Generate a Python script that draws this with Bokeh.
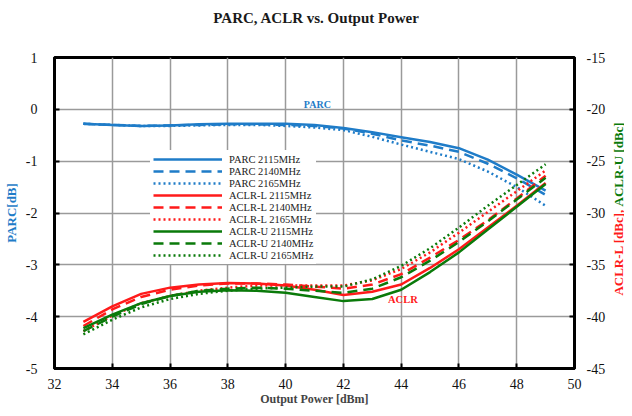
import math
from bokeh.plotting import figure
from bokeh.layouts import row, column
from bokeh.models import (Range1d, LinearAxis, SingleIntervalTicker, Label, Legend, LegendItem,
                          PrintfTickFormatter)
from bokeh.core.properties import value
from bokeh.embed import file_html
from bokeh.resources import INLINE

# ---- data ----
power_dbm = [33, 34, 35, 36, 37, 38, 39, 40, 41, 42, 43, 44, 45, 46, 47, 48, 49]

parc_2115 = [-0.28, -0.30, -0.32, -0.31, -0.29, -0.28, -0.28, -0.28, -0.30, -0.36, -0.44, -0.54, -0.63, -0.75, -0.97, -1.26, -1.57]
parc_2140 = [-0.28, -0.30, -0.32, -0.31, -0.30, -0.29, -0.29, -0.30, -0.32, -0.37, -0.47, -0.60, -0.70, -0.82, -1.05, -1.33, -1.65]
parc_2165 = [-0.28, -0.30, -0.32, -0.32, -0.31, -0.30, -0.30, -0.32, -0.35, -0.40, -0.53, -0.68, -0.82, -0.96, -1.20, -1.50, -1.86]

aclr_l_2115 = [-40.5, -39.0, -37.8, -37.2, -36.9, -36.75, -36.8, -37.0, -37.4, -37.9, -37.6, -36.9, -35.3, -33.5, -31.4, -29.3, -27.1]
aclr_l_2140 = [-40.9, -39.3, -38.1, -37.4, -37.0, -36.8, -36.8, -36.9, -37.1, -37.3, -36.9, -35.9, -34.3, -32.6, -30.7, -28.6, -26.4]
aclr_l_2165 = [-41.4, -39.9, -38.7, -38.0, -37.5, -37.2, -37.0, -37.0, -37.0, -37.0, -36.5, -35.4, -33.8, -31.9, -29.9, -27.9, -25.9]
aclr_u_2115 = [-41.1, -39.8, -38.7, -38.0, -37.6, -37.45, -37.5, -37.7, -38.1, -38.5, -38.3, -37.4, -35.7, -33.8, -31.6, -29.4, -27.2]
aclr_u_2140 = [-41.4, -40.0, -38.8, -38.0, -37.5, -37.3, -37.2, -37.3, -37.5, -37.7, -37.3, -36.2, -34.6, -32.8, -30.8, -28.7, -26.6]
aclr_u_2165 = [-41.7, -40.3, -39.1, -38.3, -37.8, -37.5, -37.3, -37.2, -37.1, -37.1, -36.4, -35.1, -33.4, -31.4, -29.3, -27.3, -25.3]

title_text = ["PARC, ACLR vs. Output Power"]
x_label = "Output Power [dBm]"
left_label = "PARC[dB]"
right_label_l = ["ACLR-L [dBc],"]
right_label_u = ["ACLR-U [dBc]"]

BLUE = "#1f7cc8"
RED = "#ff1a1a"
GREEN = "#0a7a0a"
FONT = "Liberation Serif"

# ---- title strip ----
W0, H0 = 624, 28
p0 = figure(width=W0, height=H0, output_backend="svg", toolbar_location=None,
            x_range=Range1d(0, W0), y_range=Range1d(0, H0),
            x_axis_type=None, y_axis_type=None,
            min_border_left=0, min_border_right=0, min_border_top=0, min_border_bottom=0)
p0.outline_line_color = None
p0.grid.visible = False
p0.text(x=[316], y=[H0 - 17.5], text=title_text, text_align="center", text_baseline="middle",
        text_color="#1a1a1a", text_font=value(FONT), text_font_style="bold", text_font_size="15px")

# ---- main chart ----
W, H = 608, 380
p = figure(width=W, height=H, output_backend="svg", toolbar_location=None,
           x_range=Range1d(32, 50), y_range=Range1d(-5, 1),
           min_border_left=54, min_border_right=0, min_border_top=29, min_border_bottom=5)
p.extra_y_ranges = {"aclr": Range1d(-45, -15)}
p.background_fill_color = "white"
p.border_fill_color = "white"
p.outline_line_color = "black"
p.outline_line_width = 3


def style_axis(ax, interval, standoff):
    ax.ticker = SingleIntervalTicker(interval=interval)
    ax.axis_line_color = "black"
    ax.axis_line_width = 3
    ax.major_tick_in = 5
    ax.major_tick_out = 0
    ax.major_tick_line_color = "black"
    ax.major_tick_line_width = 2
    ax.minor_tick_line_color = None
    ax.major_label_text_font = FONT
    ax.major_label_text_font_size = "14px"
    ax.major_label_text_color = "#111111"
    ax.major_label_standoff = standoff
    ax.axis_label_text_font = FONT
    ax.axis_label_text_font_size = "12px"
    ax.axis_label_text_font_style = "bold"


style_axis(p.xaxis[0], 2, 6)
style_axis(p.yaxis[0], 1, 13)
p.yaxis[0].formatter = PrintfTickFormatter(format="%d")
p.xaxis[0].axis_label = x_label
p.xaxis[0].axis_label_standoff = 0
p.yaxis[0].axis_label = left_label
p.yaxis[0].axis_label_text_color = BLUE
p.yaxis[0].axis_label_text_font_size = "13px"
p.yaxis[0].axis_label_standoff = 4

rax = LinearAxis(y_range_name="aclr", formatter=PrintfTickFormatter(format="%d"))
style_axis(rax, 5, 8)
p.add_layout(rax, "right")

p.xgrid.ticker = SingleIntervalTicker(interval=2)
p.ygrid.ticker = SingleIntervalTicker(interval=1)
p.xgrid.grid_line_color = "#9a9a9a"
p.ygrid.grid_line_color = "#9a9a9a"
p.xgrid.grid_line_width = 1.5
p.ygrid.grid_line_width = 1.5

LW = 2.5
DASH = "10 6"
DOT = "2 3"

series = [
    ("PARC 2115MHz", parc_2115, BLUE, "solid", None),
    ("PARC 2140MHz", parc_2140, BLUE, DASH, None),
    ("PARC 2165MHz", parc_2165, BLUE, DOT, None),
    ("ACLR-L 2115MHz", aclr_l_2115, RED, "solid", "aclr"),
    ("ACLR-L 2140MHz", aclr_l_2140, RED, DASH, "aclr"),
    ("ACLR-L 2165MHz", aclr_l_2165, RED, DOT, "aclr"),
    ("ACLR-U 2115MHz", aclr_u_2115, GREEN, "solid", "aclr"),
    ("ACLR-U 2140MHz", aclr_u_2140, GREEN, DASH, "aclr"),
    ("ACLR-U 2165MHz", aclr_u_2165, GREEN, DOT, "aclr"),
]

items = []
for name, ys, color, dash, rng in series:
    kw = dict(line_color=color, line_width=LW, line_dash=dash, line_join="round")
    if rng:
        kw["y_range_name"] = rng
    r = p.line(power_dbm, ys, **kw)
    items.append(LegendItem(label=name, renderers=[r]))

legend = Legend(items=items, location=(96, 104), orientation="vertical",
                glyph_width=69, glyph_height=12, label_height=12, spacing=0,
                padding=3, margin=0, label_standoff=7,
                label_text_font=FONT, label_text_font_size="10.5px",
                label_text_color="#222222",
                border_line_alpha=0, background_fill_color="white", background_fill_alpha=1)
p.add_layout(legend)

p.add_layout(Label(x=41.1, y=0.09, text="PARC", text_color=BLUE, text_font=FONT,
                   text_font_style="bold", text_font_size="10px",
                   text_align="center", text_baseline="middle"))
p.add_layout(Label(x=44.06, y=-38.37, y_range_name="aclr", text="ACLR", text_color=RED,
                   text_font=FONT, text_font_style="bold", text_font_size="10.5px",
                   text_align="center", text_baseline="middle"))

# ---- narrow strip on the right: two-coloured, upward-reading axis title ----
W2 = W0 - W
p2 = figure(width=W2, height=H, output_backend="svg", toolbar_location=None,
            x_range=Range1d(0, W2), y_range=Range1d(0, H),
            x_axis_type=None, y_axis_type=None,
            min_border_left=0, min_border_right=0, min_border_top=0, min_border_bottom=0)
p2.outline_line_color = None
p2.background_fill_color = "white"
p2.border_fill_color = "white"
p2.grid.visible = False
mid_y = H - 185
p2.text(x=[9.5], y=[mid_y], text=right_label_l, angle=math.pi / 2,
        text_align="right", text_baseline="middle", text_color=RED,
        text_font=value(FONT), text_font_style="bold", text_font_size="13px")
p2.text(x=[9.5], y=[mid_y + 3], text=right_label_u, angle=math.pi / 2,
        text_align="left", text_baseline="middle", text_color=GREEN,
        text_font=value(FONT), text_font_style="bold", text_font_size="13px")

layout = column(p0, row(p, p2))
open("out.html", "w").write(file_html(layout, INLINE))
